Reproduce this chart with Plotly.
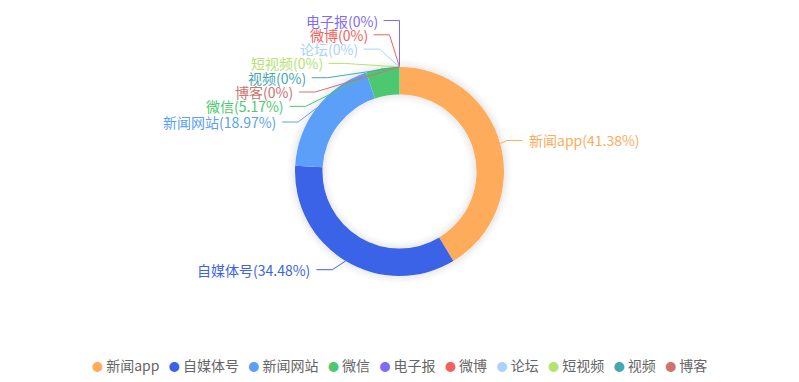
import math
import plotly.graph_objects as go

# ---- data ----
categories = ["新闻app", "自媒体号", "新闻网站", "微信", "电子报", "微博", "论坛", "短视频", "视频", "博客"]
values = [24, 20, 11, 3, 0, 0, 0, 0, 0, 0]
colors = ["#FFAB5C", "#3B63E7", "#5B9FF8", "#4CC970", "#7F6BF6",
          "#F2625C", "#A9D2FD", "#B5E370", "#45A8B0", "#D0726E"]

# ---- geometry (pixels) ----
W, H = 799, 382
CX, CY = 399.5, 171.5
R_OUT, R_IN = 104.5, 77.0
LEN1, LEN2, LABEL_DIST = 11.5, 16.0, 5.0
LABEL_H = 14.3
VIEW_TOP, VIEW_H = 0.0, 284.0
FONT = "Noto Sans CJK SC"


def px(x):
    return x / W


def py(y):
    return 1 - y / H


def fmt_pct(v, total):
    s = f"{v / total * 100:.2f}".rstrip("0").rstrip(".")
    return s


total = sum(values)

# ---- natural label positions (echarts-like) ----
items = []
cum = 0
for i, v in enumerate(values):
    a0 = cum / total * 2 * math.pi
    cum += v
    a1 = cum / total * 2 * math.pi
    mid = (a0 + a1) / 2
    dx, dy = math.sin(mid), -math.cos(mid)
    x0, y0 = CX + R_OUT * dx, CY + R_OUT * dy
    x1, y1 = CX + (R_OUT + LEN1) * dx, CY + (R_OUT + LEN1) * dy
    d = -1 if dx < 0 else 1
    x2 = x1 + d * LEN2
    items.append(dict(i=i, p0=(x0, y0), x=x2 + d * LABEL_DIST, y=y1,
                      dist=x1 - x2, dir=d, h=LABEL_H))


def adjust_side(lst, d):
    lst.sort(key=lambda t: t["y"])
    n = len(lst)

    def shift_up(end, delta):
        for j in range(end, -1, -1):
            if lst[j]["y"] - delta < VIEW_TOP:
                break
            lst[j]["y"] -= delta
            if j > 0 and lst[j]["y"] > lst[j - 1]["y"] + lst[j - 1]["h"]:
                break

    def shift_down(start, end, delta):
        for j in range(start, end):
            if lst[j]["y"] + delta > VIEW_TOP + VIEW_H:
                break
            lst[j]["y"] += delta
            if j > start and j + 1 < end and lst[j + 1]["y"] > lst[j]["y"] + lst[j]["h"]:
                shift_up(j, delta / 2)
                return
        shift_up(end - 1, delta / 2)

    def change_x(sub, is_down):
        last = float("inf") if is_down else 0.0
        for t in sub:
            dyy = abs(t["y"] - CY)
            if dyy < R_OUT + LEN1:
                dxx = math.sqrt((R_OUT + LEN1 + LEN2) ** 2 - dyy ** 2)
            else:
                dxx = abs(t["x"] - CX)
            if is_down and dxx >= last:
                dxx = last - 10
            if (not is_down) and dxx <= last:
                dxx = last + 10
            t["x"] = CX + dxx * d
            last = dxx

    last_y = 0.0
    for k in range(n):
        delta = lst[k]["y"] - last_y
        if delta < 0:
            shift_down(k, n, -delta)
        last_y = lst[k]["y"] + lst[k]["h"]
    if VIEW_H - last_y < 0:
        shift_up(n - 1, last_y - VIEW_H)
    up = [t for t in lst if t["y"] < CY]
    down = [t for t in lst if t["y"] >= CY]
    change_x(up, False)
    change_x(down, True)


left = [t for t in items if t["dir"] < 0]
right = [t for t in items if t["dir"] > 0]
adjust_side(right, 1)
adjust_side(left, -1)

# ---- figure ----
fig = go.Figure()
fig.add_trace(go.Pie(
    labels=categories, values=values, sort=False, direction="clockwise", rotation=0,
    hole=R_IN / R_OUT, textinfo="none", showlegend=False,
    marker=dict(colors=colors, line=dict(width=0)),
    domain=dict(x=[px(CX - R_OUT), px(CX + R_OUT)], y=[py(CY + R_OUT), py(CY - R_OUT)]),
))

shapes = []
# soft shadow around the ring
for k, a in [(1, 0.07), (2.5, 0.05), (4, 0.035), (5.5, 0.022), (7, 0.012)]:
    for r in (R_OUT + k, R_IN - k):
        shapes.append(dict(type="circle", xref="paper", yref="paper", layer="below",
                           x0=px(CX - r), x1=px(CX + r), y0=py(CY + r), y1=py(CY - r),
                           line=dict(color=f"rgba(0,0,0,{a})", width=1.6)))

annotations = []
for t in items:
    i = t["i"]
    d = t["dir"]
    col = colors[i]
    x2 = t["x"] - d * LABEL_DIST
    x1 = x2 + t["dist"]
    y = t["y"]
    x0, y0 = t["p0"]
    for (xa, ya, xb, yb) in [(x0, y0, x1, y), (x1, y, x2, y)]:
        shapes.append(dict(type="line", xref="paper", yref="paper",
                           x0=px(xa), y0=py(ya), x1=px(xb), y1=py(yb),
                           line=dict(color=col, width=1)))
    annotations.append(dict(
        text=f"{categories[i]}({fmt_pct(values[i], total)}%)",
        x=px(t["x"]), y=py(y), xref="paper", yref="paper",
        xanchor="right" if d < 0 else "left", yanchor="middle",
        showarrow=False, borderpad=0,
        font=dict(family=FONT, size=14, color=col)))

legend_parts = [f"<span style='color:{c};font-size:11px'>●</span> {name}" for name, c in zip(categories, colors)]
annotations.append(dict(
    text="   ".join(legend_parts), x=0.5, y=py(365), xref="paper", yref="paper",
    xanchor="center", yanchor="middle", showarrow=False,
    font=dict(family=FONT, size=14, color="#666666")))

fig.update_layout(
    width=W, height=H, margin=dict(l=0, r=0, t=0, b=0),
    paper_bgcolor="white", plot_bgcolor="white",
    shapes=shapes, annotations=annotations,
    font=dict(family=FONT),
)
fig.write_html("out.html", config={"displayModeBar": False},
               post_script="document.body.style.margin='0px';")
